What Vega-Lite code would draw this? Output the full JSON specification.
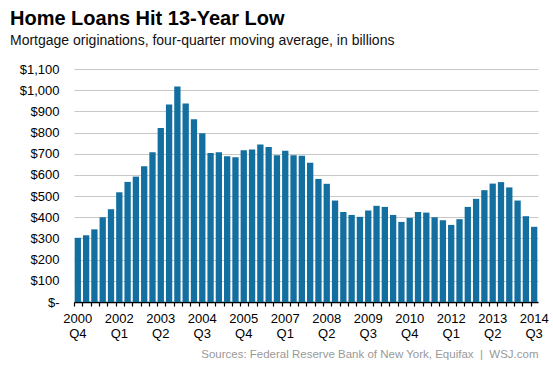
{
  "$schema": "https://vega.github.io/schema/vega-lite/v6.json",
  "width": 464,
  "height": 233,
  "autosize": "none",
  "padding": {"left": 74, "top": 69, "right": 15, "bottom": 67},
  "background": "white",
  "title": {
    "text": "Home Loans Hit 13-Year Low",
    "subtitle": "Mortgage originations, four-quarter moving average, in billions",
    "anchor": "start",
    "frame": "group",
    "dx": -64,
    "offset": 15,
    "font": "Liberation Sans",
    "fontSize": 20,
    "fontWeight": "bold",
    "color": "#000000",
    "subtitleFont": "Liberation Sans",
    "subtitleFontSize": 14,
    "subtitleColor": "#111111",
    "subtitlePadding": 5
  },
  "data": {
    "values": [
      {"q": "2000 Q4", "v": 303},
      {"q": "2001 Q1", "v": 315},
      {"q": "2001 Q2", "v": 343},
      {"q": "2001 Q3", "v": 400},
      {"q": "2001 Q4", "v": 438},
      {"q": "2002 Q1", "v": 518},
      {"q": "2002 Q2", "v": 567},
      {"q": "2002 Q3", "v": 592},
      {"q": "2002 Q4", "v": 641},
      {"q": "2003 Q1", "v": 707},
      {"q": "2003 Q2", "v": 822},
      {"q": "2003 Q3", "v": 932},
      {"q": "2003 Q4", "v": 1017},
      {"q": "2004 Q1", "v": 937},
      {"q": "2004 Q2", "v": 863},
      {"q": "2004 Q3", "v": 797},
      {"q": "2004 Q4", "v": 704},
      {"q": "2005 Q1", "v": 707},
      {"q": "2005 Q2", "v": 688},
      {"q": "2005 Q3", "v": 683},
      {"q": "2005 Q4", "v": 716},
      {"q": "2006 Q1", "v": 720},
      {"q": "2006 Q2", "v": 743},
      {"q": "2006 Q3", "v": 732},
      {"q": "2006 Q4", "v": 693},
      {"q": "2007 Q1", "v": 714},
      {"q": "2007 Q2", "v": 693},
      {"q": "2007 Q3", "v": 690},
      {"q": "2007 Q4", "v": 657},
      {"q": "2008 Q1", "v": 581},
      {"q": "2008 Q2", "v": 558},
      {"q": "2008 Q3", "v": 479},
      {"q": "2008 Q4", "v": 425},
      {"q": "2009 Q1", "v": 411},
      {"q": "2009 Q2", "v": 402},
      {"q": "2009 Q3", "v": 432},
      {"q": "2009 Q4", "v": 454},
      {"q": "2010 Q1", "v": 449},
      {"q": "2010 Q2", "v": 411},
      {"q": "2010 Q3", "v": 378},
      {"q": "2010 Q4", "v": 397},
      {"q": "2011 Q1", "v": 425},
      {"q": "2011 Q2", "v": 422},
      {"q": "2011 Q3", "v": 400},
      {"q": "2011 Q4", "v": 386},
      {"q": "2012 Q1", "v": 364},
      {"q": "2012 Q2", "v": 391},
      {"q": "2012 Q3", "v": 449},
      {"q": "2012 Q4", "v": 487},
      {"q": "2013 Q1", "v": 528},
      {"q": "2013 Q2", "v": 559},
      {"q": "2013 Q3", "v": 566},
      {"q": "2013 Q4", "v": 541},
      {"q": "2014 Q1", "v": 479},
      {"q": "2014 Q2", "v": 405},
      {"q": "2014 Q3", "v": 355}
    ]
  },
  "mark": {"type": "bar", "color": "#136f9f"},
  "encoding": {
    "x": {
      "field": "q",
      "type": "ordinal",
      "sort": null,
      "scale": {"paddingInner": 0.24, "paddingOuter": 0.08},
      "axis": {
        "title": "Sources: Federal Reserve Bank of New York, Equifax \u00a0|\u00a0 WSJ.com",
        "titleFont": "Liberation Sans",
        "titleFontSize": 11.5,
        "titleFontWeight": "normal",
        "titleColor": "#999999",
        "titleAnchor": "end",
        "titlePadding": 8,
        "labelExpr": "indexof(['2000 Q4','2002 Q1','2003 Q2','2004 Q3','2005 Q4','2007 Q1','2008 Q2','2009 Q3','2010 Q4','2012 Q1','2013 Q2','2014 Q3'], datum.value) >= 0 ? split(datum.value, ' ') : ''",
        "labelAngle": 0,
        "labelOverlap": false,
        "labelFont": "Liberation Sans",
        "labelFontSize": 13,
        "labelColor": "#000000",
        "labelPadding": 6,
        "labelLineHeight": 15,
        "bandPosition": 0,
        "domainColor": "#000000",
        "domainWidth": 1.5,
        "tickColor": "#000000",
        "tickSize": 4,
        "tickWidth": 1.2,
        "grid": false
      }
    },
    "y": {
      "field": "v",
      "type": "quantitative",
      "scale": {"domain": [0, 1100], "nice": false},
      "axis": {
        "title": null,
        "values": [0, 100, 200, 300, 400, 500, 600, 700, 800, 900, 1000, 1100],
        "labelExpr": "datum.value == 0 ? '$-' : '$' + format(datum.value, ',')",
        "labelFont": "Liberation Sans",
        "labelFontSize": 13,
        "labelColor": "#000000",
        "labelPadding": 15,
        "domain": false,
        "ticks": false,
        "grid": true,
        "gridColor": "#c8c8c8",
        "gridWidth": 1.2
      }
    }
  },
  "config": {"view": {"stroke": null}}
}
